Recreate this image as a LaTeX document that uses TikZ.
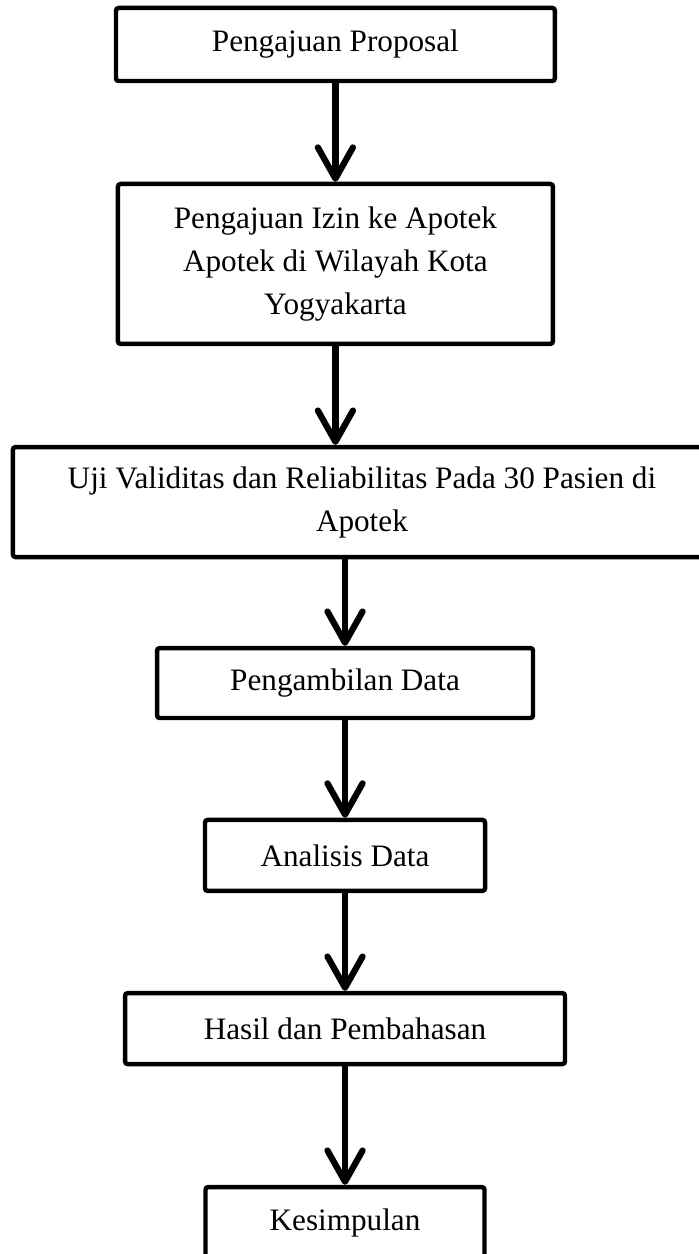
\documentclass[tikz,border=0pt]{standalone}
\usepackage{fontspec}
\setmainfont{Liberation Serif}
\usetikzlibrary{arrows.meta}

\begin{document}
\begin{tikzpicture}[x=1pt, y=1pt,
  procbox/.style={draw, line width=1.7pt, rounded corners=1pt, align=center, inner sep=0pt, font=\fontsize{12}{16.5}\selectfont},
  flowarrow/.style={line width=2.4pt, -{Straight Barb[length=12pt, width=13.5pt, round]}}]

\clip (0,0) rectangle (268.8,-482.3);
\useasboundingbox (0,0) rectangle (268.8,-482.3);

\node[procbox, minimum width=168.8pt, minimum height=28.1pt] (prop) at (129,-17.1) {Pengajuan Proposal};
\node[procbox, minimum width=167.3pt, minimum height=61.5pt] (izin) at (129,-101.5) {Pengajuan Izin ke Apotek\\ Apotek di Wilayah Kota\\ Yogyakarta};
\node[procbox, minimum width=268.5pt, minimum height=42.3pt] (uji) at (139.2,-193.1) {Uji Validitas dan Reliabilitas Pada 30 Pasien di\\ Apotek};
\node[procbox, minimum width=144.6pt, minimum height=26.9pt] (ambil) at (132.7,-262.7) {Pengambilan Data};
\node[procbox, minimum width=107.7pt, minimum height=27.3pt] (analisis) at (132.7,-329) {Analisis Data};
\node[procbox, minimum width=169.2pt, minimum height=27.3pt] (hasil) at (132.7,-395.6) {Hasil dan Pembahasan};
\node[procbox, minimum width=107.3pt, minimum height=27.3pt] (simpul) at (132.7,-470.2) {Kesimpulan};

\draw[flowarrow] (prop) -- (izin);
\draw[flowarrow] (izin.south) -- (izin.south |- uji.north);
\draw[flowarrow] (uji.south -| ambil.north) -- (ambil.north);
\draw[flowarrow] (ambil) -- (analisis);
\draw[flowarrow] (analisis) -- (hasil);
\draw[flowarrow] (hasil) -- (simpul);

\end{tikzpicture}
\end{document}
